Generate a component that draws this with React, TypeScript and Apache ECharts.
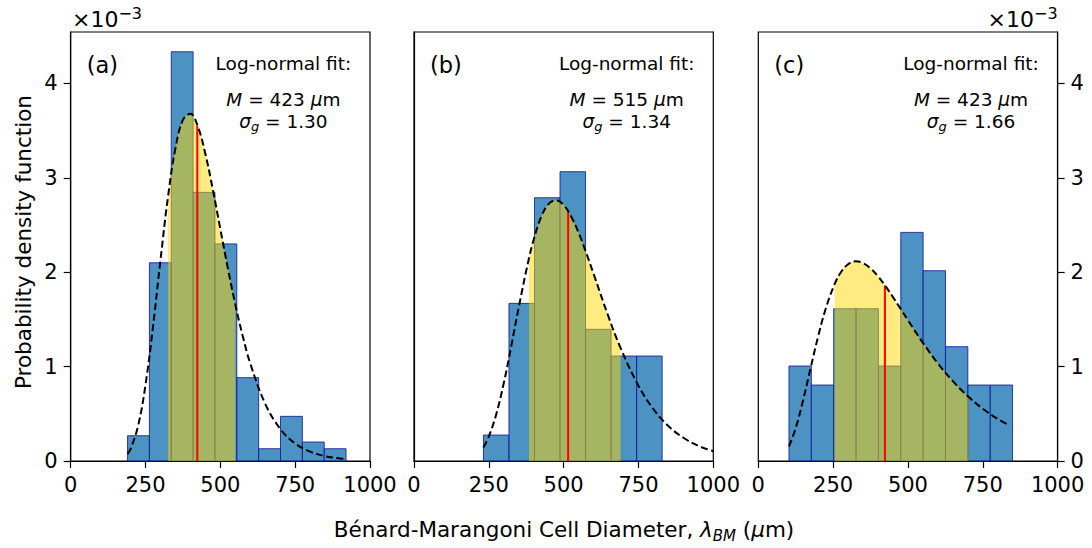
import React, { useEffect, useRef } from "react";
import * as echarts from "echarts";

// Histogram bin edges (μm) and densities (×10⁻³ per μm)
const binEdgesA = [190, 263, 336, 409, 482, 555, 628, 701, 774, 847, 920];
const densityA = [0.268, 2.1, 4.336, 2.846, 2.3, 0.883, 0.13, 0.473, 0.201, 0.13];
const binEdgesB = [232, 317.3, 402.6, 487.9, 573.2, 658.5, 743.8, 829.1];
const densityB = [0.275, 1.67, 2.789, 3.065, 1.395, 1.112, 1.112];
const binEdgesC = [102.5, 177.2, 251.9, 326.6, 401.3, 476, 550.7, 625.4, 700.1, 774.8, 849.5];
const densityC = [1.006, 0.805, 1.613, 1.613, 1.006, 2.422, 2.016, 1.211, 0.805, 0.805];

// Log-normal fit curves (x in μm, density ×10⁻³)
const curveXA = [190, 200, 225, 250, 275, 300, 325.4, 350, 375, 400, 425, 450, 475, 500, 525, 549.9, 575, 600, 650, 700, 750, 800, 850, 900, 920];
const curveYA = [0.075, 0.128, 0.37, 0.808, 1.424, 2.129, 2.806, 3.314, 3.613, 3.679, 3.541, 3.253, 2.874, 2.457, 2.043, 1.659, 1.321, 1.033, 0.606, 0.341, 0.185, 0.099, 0.051, 0.027, 0.021];
const curveXB = [232, 250, 275, 300, 325, 350, 384.3, 400, 425, 450, 475, 500, 525, 550, 575, 600, 650, 690.1, 750, 800, 850, 900, 950, 1000];
const curveYB = [0.144, 0.259, 0.498, 0.826, 1.217, 1.63, 2.151, 2.347, 2.586, 2.724, 2.762, 2.712, 2.591, 2.417, 2.209, 1.983, 1.528, 1.198, 0.797, 0.549, 0.37, 0.246, 0.161, 0.104];
const curveXC = [102.5, 125, 150, 175, 200, 225, 254.8, 275, 300, 325, 350, 375, 400, 425, 450, 475, 500, 550, 600, 650, 702.2, 750, 800, 840.5];
const curveYC = [0.154, 0.349, 0.648, 0.988, 1.32, 1.611, 1.873, 1.995, 2.085, 2.116, 2.097, 2.041, 1.956, 1.852, 1.736, 1.614, 1.491, 1.252, 1.034, 0.846, 0.68, 0.554, 0.446, 0.374];

const medianM = [423, 515, 423];
const medianPdf = [3.55, 2.65, 1.86];
const sigmaG = ["1.30", "1.34", "1.66"];
const bandLo = [325.4, 384.3, 254.8];
const bandHi = [549.9, 690.1, 702.2];
const panelTags = ["(a)", "(b)", "(c)"];
const xTickValues = [0, 250, 500, 750, 1000];
const yTickValues = [0, 1, 2, 3, 4];

const FONT = "'DejaVu Sans', sans-serif";
const panelLefts = [70.7, 414, 758.3];
const panelWidth = 299.3;
const panelTop = 32;
const panelHeight = 429;

export default function App() {
  const ref = useRef<HTMLDivElement>(null);
  useEffect(() => {
    if (!ref.current) return;
    document.body.style.margin = "0";
    const chart = echarts.init(ref.current, null, { renderer: "svg" });

    const edges = [binEdgesA, binEdgesB, binEdgesC];
    const dens = [densityA, densityB, densityC];
    const cx = [curveXA, curveXB, curveXC];
    const cy = [curveYA, curveYB, curveYC];

    const grids = panelLefts.map((l) => ({
      left: l,
      top: panelTop,
      width: panelWidth,
      height: panelHeight,
      show: true,
      borderColor: "#000",
      borderWidth: 1.2,
      backgroundColor: "transparent",
    }));

    const xAxes = panelLefts.map((_, i) => ({
      gridIndex: i,
      type: "value",
      min: xTickValues[0],
      max: xTickValues[xTickValues.length - 1],
      interval: 250,
      axisLine: { show: true, onZero: false, lineStyle: { color: "#000", width: 1.2 } },
      axisTick: { show: true, length: 7, lineStyle: { color: "#000", width: 1.2 } },
      axisLabel: {
        fontSize: 21,
        color: "#000",
        margin: 13,
        fontFamily: FONT,
        formatter: (v: number) => String(v),
      },
      splitLine: { show: false },
    }));

    const yAxes = panelLefts.map((_, i) => ({
      gridIndex: i,
      type: "value",
      min: 0,
      max: 4.545,
      position: i === 2 ? "right" : "left",
      axisLine: { show: true, onZero: false, lineStyle: { color: "#000", width: 1.2 } },
      axisTick: {
        show: i !== 1,
        length: 7,
        customValues: yTickValues,
        lineStyle: { color: "#000", width: 1.2 },
      },
      axisLabel: {
        show: i !== 1,
        customValues: yTickValues,
        fontSize: 21,
        color: "#000",
        margin: 13,
        fontFamily: FONT,
        formatter: (v: number) => String(v),
      },
      splitLine: { show: false },
    }));

    const series: any[] = [];
    panelLefts.forEach((_, i) => {
      const bins = dens[i].map((h, k) => [edges[i][k], edges[i][k + 1], h]);
      series.push({
        type: "custom",
        xAxisIndex: i,
        yAxisIndex: i,
        z: 2,
        data: bins,
        encode: { x: [0, 1], y: 2 },
        renderItem: (params: any, api: any) => {
          const p0 = api.coord([api.value(0), 0]);
          const p1 = api.coord([api.value(1), api.value(2)]);
          return {
            type: "rect",
            shape: { x: p0[0], y: p1[1], width: p1[0] - p0[0], height: p0[1] - p1[1] },
            style: { fill: "rgba(31,119,180,0.8)", stroke: "rgba(20,30,150,0.85)", lineWidth: 1 },
          };
        },
      });
      const pts = cx[i].map((x, k) => [x, cy[i][k]]);
      const fillPts = pts.filter((p) => p[0] >= bandLo[i] && p[0] <= bandHi[i]);
      series.push({
        type: "line",
        xAxisIndex: i,
        yAxisIndex: i,
        z: 3,
        data: fillPts,
        smooth: 0.4,
        symbol: "none",
        silent: true,
        lineStyle: { width: 0, opacity: 0 },
        areaStyle: { color: "#FFD700", opacity: 0.5, origin: "start" },
      });
      series.push({
        type: "line",
        xAxisIndex: i,
        yAxisIndex: i,
        z: 4,
        data: [
          [medianM[i], 0],
          [medianM[i], medianPdf[i]],
        ],
        symbol: "none",
        silent: true,
        lineStyle: { color: "#ff0000", width: 2 },
      });
      series.push({
        type: "line",
        xAxisIndex: i,
        yAxisIndex: i,
        z: 5,
        data: pts,
        smooth: 0.4,
        symbol: "none",
        silent: true,
        lineStyle: { color: "#000", width: 2, type: [7, 3.5] },
      });
    });

    const graphics: any[] = [];
    panelLefts.forEach((l, i) => {
      graphics.push({
        type: "text",
        x: l + 16,
        y: 65,
        style: { text: panelTags[i], fontSize: 22.5, fontFamily: FONT, fill: "#000", verticalAlign: "middle", align: "left" },
      });
      const cxText = l + 212.7;
      graphics.push({
        type: "text",
        x: cxText,
        y: 63,
        style: { text: "Log-normal fit:", fontSize: 18.5, fontFamily: FONT, fill: "#000", align: "center", verticalAlign: "middle" },
      });
      graphics.push({
        type: "text",
        x: cxText,
        y: 99,
        style: {
          text: "{it|M} = " + medianM[i] + " {it|μ}m",
          fontSize: 18.5,
          fontFamily: FONT,
          fill: "#000",
          align: "center",
          verticalAlign: "middle",
          lineHeight: 24,
          rich: {
            it: { fontStyle: "italic", fontSize: 18.5, fontFamily: FONT, fill: "#000", lineHeight: 24 },
          },
        },
      });
      graphics.push({
        type: "text",
        x: cxText,
        y: 121,
        style: {
          text: "{it|σ}{sub|g} = " + sigmaG[i],
          fontSize: 18.5,
          fontFamily: FONT,
          fill: "#000",
          align: "center",
          verticalAlign: "middle",
          lineHeight: 24,
          rich: {
            it: { fontStyle: "italic", fontSize: 18.5, fontFamily: FONT, fill: "#000", lineHeight: 24 },
            sub: { fontStyle: "italic", fontSize: 13, fontFamily: FONT, fill: "#000", lineHeight: 14, verticalAlign: "bottom" },
          },
        },
      });
    });

    const offsetStyle = (align: string) => ({
      text: "×10{sup|−3}",
      fontSize: 22,
      fontFamily: FONT,
      fill: "#000",
      align,
      verticalAlign: "middle",
      lineHeight: 28,
      rich: {
        sup: { fontSize: 16, fontFamily: FONT, fill: "#000", lineHeight: 14, verticalAlign: "top" },
      },
    });
    graphics.push({ type: "text", x: 72, y: 19, style: offsetStyle("left") });
    graphics.push({ type: "text", x: panelLefts[2] + panelWidth, y: 19, style: offsetStyle("right") });

    graphics.push({
      type: "text",
      x: 23,
      y: 242,
      rotation: Math.PI / 2,
      style: { text: "Probability density function", fontSize: 21.5, fontFamily: FONT, fill: "#000", align: "center", verticalAlign: "middle" },
    });
    graphics.push({
      type: "text",
      x: 564,
      y: 529,
      style: {
        text: "Bénard-Marangoni Cell Diameter, {it|λ}{sub|BM} ({it|μ}m)",
        fontSize: 21.5,
        fontFamily: FONT,
        fill: "#000",
        align: "center",
        verticalAlign: "middle",
        lineHeight: 28,
        rich: {
          it: { fontStyle: "italic", fontSize: 21.5, fontFamily: FONT, fill: "#000", lineHeight: 28 },
          sub: { fontStyle: "italic", fontSize: 15, fontFamily: FONT, fill: "#000", lineHeight: 17, verticalAlign: "bottom" },
        },
      },
    });

    chart.setOption({
      animation: false,
      grid: grids,
      xAxis: xAxes,
      yAxis: yAxes,
      series,
      graphic: graphics,
    });
    return () => chart.dispose();
  }, []);
  return <div ref={ref} style={{ position: "absolute", left: 0, top: 0, width: 1092, height: 548 }} />;
}
